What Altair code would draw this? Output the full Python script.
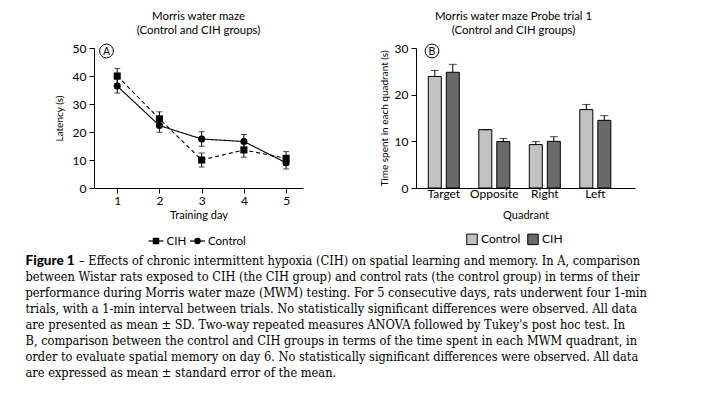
import altair as alt
import pandas as pd

# ---------------- data ----------------
days = [1, 2, 3, 4, 5]
cih_latency = [40.0, 24.7, 10.0, 13.6, 10.6]
cih_sd = [2.7, 2.5, 2.5, 2.6, 2.4]
ctrl_latency = [36.4, 22.3, 17.5, 16.6, 9.0]
ctrl_sd = [2.5, 2.4, 2.6, 2.5, 2.2]

quadrants = ["Target", "Opposite", "Right", "Left"]
ctrl_time = [23.9, 12.5, 9.3, 16.8]
ctrl_sem = [1.3, 0.0, 0.65, 1.1]
cih_time = [24.8, 9.95, 10.0, 14.5]
cih_sem = [1.7, 0.65, 1.0, 1.0]

groups_a = ["CIH", "Control"]
groups_b = ["Control", "CIH"]

caption_first = "– Effects of chronic intermittent hypoxia (CIH) on spatial learning and memory. In A, comparison"
caption_rest = [
    "between Wistar rats exposed to CIH (the CIH group) and control rats (the control group) in terms of their",
    "performance during Morris water maze (MWM) testing. For 5 consecutive days, rats underwent four 1-min",
    "trials, with a 1-min interval between trials. No statistically significant differences were observed. All data",
    "are presented as mean ± SD. Two-way repeated measures ANOVA followed by Tukey's post hoc test. In",
    "B, comparison between the control and CIH groups in terms of the time spent in each MWM quadrant, in",
    "order to evaluate spatial memory on day 6. No statistically significant differences were observed. All data",
    "are expressed as mean ± standard error of the mean.",
]

# ---------------- tables ----------------
rows = []
for g, vals, sds in [("CIH", cih_latency, cih_sd), ("Control", ctrl_latency, ctrl_sd)]:
    for d, v, s in zip(days, vals, sds):
        rows.append({"Day": d, "Group": g, "Latency": v, "lo": v - s, "hi": v + s})
df_a = pd.DataFrame(rows)

rows = []
for g, vals, errs in [("Control", ctrl_time, ctrl_sem), ("CIH", cih_time, cih_sem)]:
    for q, v, e in zip(quadrants, vals, errs):
        rows.append({"Quadrant": q, "Group": g, "Time": v, "hi": v + e})
df_b = pd.DataFrame(rows)

SANS = "Lato"
SERIF = "DejaVu Serif Condensed, Liberation Serif"

# ---------------- panel A ----------------
WA, HA = 209, 140
scx_a = alt.Scale(domain=[0.45, 5.4], nice=False, zero=False)
scy_a = alt.Scale(domain=[0, 50], nice=False)
ax_x_a = alt.Axis(values=days, title="Training day", grid=False, format="d", labelOverlap=False,
                  titlePadding=3, labelPadding=2)
ax_y_a = alt.Axis(values=[0, 10, 20, 30, 40, 50], title="Latency (s)", grid=False, labelOverlap=False)


def xa(field):
    return alt.X(field, type="quantitative", scale=scx_a, axis=ax_x_a)


def ya(field):
    return alt.Y(field, type="quantitative", scale=scy_a, axis=ax_y_a)


base_a = alt.Chart(df_a)
lines_a = base_a.mark_line(color="black", strokeWidth=1.1).encode(
    x=xa("Day"), y=ya("Latency"),
    strokeDash=alt.StrokeDash("Group:N", scale=alt.Scale(domain=groups_a, range=[[4, 3], [1, 0]]), legend=None),
)
err_a = base_a.mark_rule(color="black", strokeWidth=1).encode(x=xa("Day"), y=ya("lo"), y2="hi:Q")
cap_lo = base_a.mark_tick(color="black", orient="horizontal", size=6, thickness=1).encode(x=xa("Day"), y=ya("lo"))
cap_hi = base_a.mark_tick(color="black", orient="horizontal", size=6, thickness=1).encode(x=xa("Day"), y=ya("hi"))
pts_a = base_a.mark_point(filled=True, color="black", opacity=1, size=50).encode(
    x=xa("Day"), y=ya("Latency"),
    shape=alt.Shape("Group:N", scale=alt.Scale(domain=groups_a, range=["square", "circle"]), legend=None),
)

# legend of panel A (line + marker symbols)
leg_x0 = [54.5, 96]
leg_a_lines = [
    alt.Chart(pd.DataFrame({"g": [g]})).mark_rule(color="black", strokeWidth=1.2).encode(
        x=alt.value(x0), x2=alt.value(x0 + 15), y=alt.value(193))
    for g, x0 in zip(groups_a, leg_x0)
]
leg_a_pts = [
    alt.Chart(pd.DataFrame({"g": [g]})).mark_point(shape=s, filled=True, color="black", size=42, opacity=1).encode(
        x=alt.value(x0 + 7.5), y=alt.value(193))
    for g, s, x0 in zip(groups_a, ["square", "circle"], leg_x0)
]
leg_a_txt = [
    alt.Chart(pd.DataFrame({"g": [g]})).mark_text(font=SANS, fontSize=11.5, color="black", align="left",
                                                  baseline="middle").encode(
        x=alt.value(x0 + 18), y=alt.value(193.5), text="g:N")
    for g, x0 in zip(groups_a, leg_x0)
]

lab_a_circle = alt.Chart(pd.DataFrame({"t": ["A"]})).mark_point(
    shape="circle", size=190, filled=False, color="black", strokeWidth=1, opacity=1
).encode(x=alt.value(12.5), y=alt.value(3))
lab_a_text = alt.Chart(pd.DataFrame({"t": ["A"]})).mark_text(
    font=SANS, fontSize=10.5, color="black", baseline="middle", align="center"
).encode(x=alt.value(12.5), y=alt.value(3.5), text="t:N")

cap_bold = alt.Chart(pd.DataFrame({"t": ["Figure 1"]})).mark_text(
    font=SANS, fontSize=13.5, fontWeight=900, color="black", align="left", baseline="alphabetic"
).encode(x=alt.value(-68.5), y=alt.value(217), text="t:N")
cap_line1 = alt.Chart(pd.DataFrame({"t": [caption_first]})).mark_text(
    font=SERIF, fontSize=12.7, color="black", align="left", baseline="alphabetic"
).encode(x=alt.value(-15), y=alt.value(217), text="t:N")
cap_others = alt.Chart(pd.DataFrame({"i": [0]})).mark_text(
    font=SERIF, fontSize=12.7, color="black", align="left", baseline="alphabetic",
    lineHeight=16.0, text=caption_rest
).encode(x=alt.value(-68.5), y=alt.value(233.0))

TITLE_KW = dict(fontSize=11.4, fontWeight="normal", font=SANS, color="black", lineHeight=14, offset=6)

panel_a = alt.layer(
    lines_a, err_a, cap_lo, cap_hi, pts_a, *leg_a_lines, *leg_a_pts, *leg_a_txt,
    lab_a_circle, lab_a_text, cap_bold, cap_line1, cap_others
).properties(
    width=WA, height=HA,
    title=alt.Title(["Morris water maze", "(Control and CIH groups)"], **TITLE_KW),
)

# ---------------- panel B ----------------
WB, HB = 219, 140
xB = alt.X("Quadrant:N", sort=quadrants,
           scale=alt.Scale(paddingInner=0.386, paddingOuter=0.361, align=0.337),
           axis=alt.Axis(title="Quadrant", labelAngle=0, ticks=False, grid=False, labelPadding=0,
                         titlePadding=10))
xoff = alt.XOffset("Group:N", sort=groups_b, scale=alt.Scale(domain=groups_b, paddingInner=0.278, paddingOuter=0))
ax_y_b = alt.Axis(values=[0, 10, 20, 30], title="Time spent in each quadrant (s)", grid=False,
                  labelOverlap=False, titlePadding=5)
scy_b = alt.Scale(domain=[0, 30], nice=False)

base_b = alt.Chart(df_b)
bars_b = base_b.mark_bar(stroke="black", strokeWidth=1).encode(
    x=xB, xOffset=xoff, y=alt.Y("Time:Q", scale=scy_b, axis=ax_y_b),
    fill=alt.Fill("Group:N", sort=groups_b,
                  scale=alt.Scale(domain=groups_b, range=["#c2c2c2", "#6a6a6a"]),
                  legend=alt.Legend(title=None, orient="none", legendX=372, legendY=185,
                                    direction="horizontal", symbolType="square", symbolSize=110,
                                    symbolStrokeColor="black", symbolStrokeWidth=1,
                                    labelFont=SANS, labelFontSize=12, labelColor="black",
                                    columnPadding=4, labelOffset=3)),
)
err_b = base_b.mark_rule(color="black", strokeWidth=1).encode(
    x=xB, xOffset=xoff, y=alt.Y("Time:Q", scale=scy_b, axis=ax_y_b), y2="hi:Q")
cap_b = base_b.mark_tick(color="black", orient="horizontal", size=8, thickness=1).encode(
    x=xB, xOffset=xoff, y=alt.Y("hi:Q", scale=scy_b, axis=ax_y_b))
lab_b_circle = alt.Chart(pd.DataFrame({"t": ["B"]})).mark_point(
    shape="circle", size=190, filled=False, color="black", strokeWidth=1, opacity=1
).encode(x=alt.value(16), y=alt.value(3))
lab_b_text = alt.Chart(pd.DataFrame({"t": ["B"]})).mark_text(
    font=SANS, fontSize=10.5, color="black", baseline="middle", align="center"
).encode(x=alt.value(16), y=alt.value(3.5), text="t:N")

panel_b = alt.layer(bars_b, err_b, cap_b, lab_b_circle, lab_b_text).properties(
    width=WB, height=HB,
    title=alt.Title(["Morris water maze Probe trial 1", "(Control and CIH groups)"], dx=-12, **TITLE_KW),
)

chart = alt.hconcat(panel_a, panel_b, spacing=113, bounds="flush").properties(
    padding={"left": 17, "top": 2, "right": 5, "bottom": 5}
).configure_view(stroke=None).configure_axis(
    domainColor="black", domainWidth=1, tickColor="black", tickWidth=1, tickSize=5,
    labelColor="black", labelFont=SANS, labelFontSize=12, labelPadding=3,
    titleColor="black", titleFont=SANS, titleFontSize=11, titleFontWeight="normal",
).configure_axisY(titleFontSize=10, titlePadding=8)

chart.save("out.html", embed_options={"renderer": "svg", "actions": False})
